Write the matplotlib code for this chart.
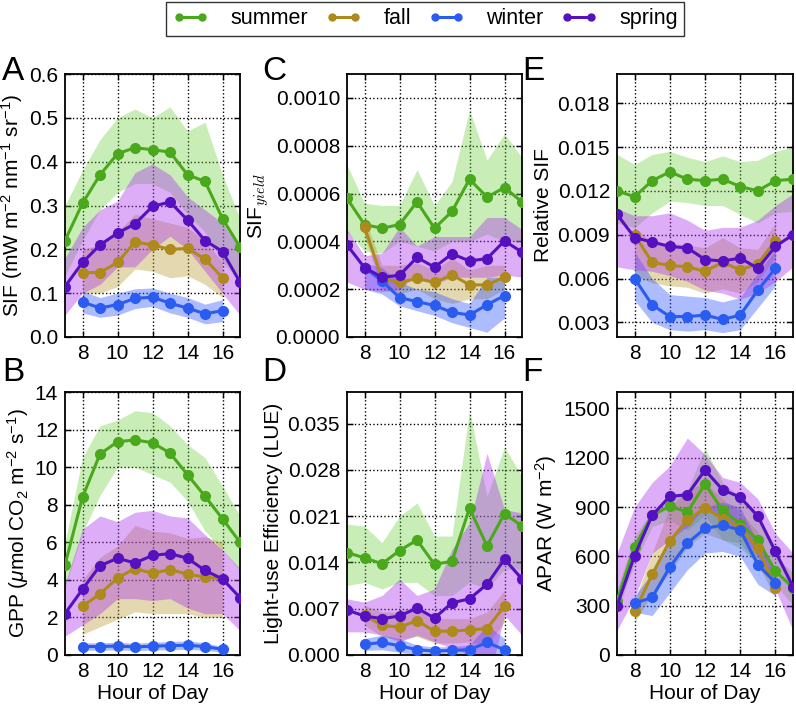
"""
python plot.py -> out.png
Diurnal cycles of SIF, GPP, SIF yield, LUE, relative SIF and APAR by season.
"""
import numpy as np
import matplotlib
matplotlib.use("Agg")
import matplotlib.pyplot as plt
from matplotlib.ticker import FormatStrFormatter

plt.rcParams["font.family"] = ["Liberation Sans", "DejaVu Sans"]
plt.rcParams["mathtext.fontset"] = "custom"
plt.rcParams["mathtext.rm"] = "Liberation Sans"
plt.rcParams["mathtext.it"] = "Liberation Sans:italic"
plt.rcParams["mathtext.bf"] = "Liberation Sans:bold"

# ---------------------------------------------------------------
# Data
# ---------------------------------------------------------------
hours_full = [7, 8, 9, 10, 11, 12, 13, 14, 15, 16, 17]   # summer, spring
hours_part = [8, 9, 10, 11, 12, 13, 14, 15, 16]          # fall, winter
seasons = ["summer", "fall", "winter", "spring"]

# A: SIF
sif_summer = [0.22, 0.305, 0.37, 0.418, 0.432, 0.427, 0.422, 0.37, 0.355, 0.27, 0.205]
sif_summer_hi = [0.30, 0.38, 0.45, 0.50, 0.52, 0.50, 0.525, 0.47, 0.49, 0.37, 0.27]
sif_summer_lo = [0.14, 0.22, 0.29, 0.33, 0.35, 0.35, 0.33, 0.28, 0.24, 0.17, 0.13]
sif_fall = [0.147, 0.147, 0.17, 0.217, 0.21, 0.20, 0.202, 0.178, 0.135]
sif_fall_hi = [0.20, 0.21, 0.24, 0.28, 0.27, 0.26, 0.25, 0.22, 0.17]
sif_fall_lo = [0.10, 0.10, 0.115, 0.155, 0.15, 0.135, 0.14, 0.12, 0.09]
sif_winter = [0.08, 0.066, 0.074, 0.088, 0.091, 0.077, 0.066, 0.053, 0.06]
sif_winter_hi = [0.105, 0.09, 0.10, 0.11, 0.112, 0.10, 0.09, 0.075, 0.085]
sif_winter_lo = [0.055, 0.045, 0.05, 0.065, 0.07, 0.055, 0.045, 0.03, 0.035]
sif_spring = [0.115, 0.17, 0.21, 0.237, 0.258, 0.298, 0.308, 0.267, 0.22, 0.195, 0.125]
sif_spring_hi = [0.18, 0.25, 0.29, 0.31, 0.375, 0.395, 0.37, 0.32, 0.29, 0.26, 0.20]
sif_spring_lo = [0.05, 0.10, 0.12, 0.16, 0.16, 0.20, 0.23, 0.20, 0.15, 0.10, 0.05]

# B: GPP
gpp_summer = [4.8, 8.4, 10.7, 11.35, 11.45, 11.3, 10.75, 9.6, 8.45, 7.25, 6.0]
gpp_summer_hi = [6.0, 10.5, 12.2, 12.5, 13.0, 12.9, 12.2, 11.2, 10.5, 9.0, 7.4]
gpp_summer_lo = [3.6, 6.5, 8.5, 10.0, 10.0, 9.6, 9.2, 8.2, 6.6, 5.6, 4.5]
gpp_fall = [2.6, 3.25, 4.1, 4.6, 4.35, 4.55, 4.3, 4.15, 4.05]
gpp_fall_hi = [4.0, 5.2, 5.8, 6.9, 6.6, 6.5, 6.2, 6.3, 6.0]
gpp_fall_lo = [1.1, 1.5, 1.9, 2.3, 2.2, 2.2, 2.2, 2.0, 2.0]
gpp_winter = [0.45, 0.45, 0.48, 0.43, 0.47, 0.50, 0.52, 0.45, 0.30]
gpp_winter_hi = [0.65, 0.65, 0.68, 0.63, 0.68, 0.72, 0.75, 0.65, 0.45]
gpp_winter_lo = [0.25, 0.25, 0.28, 0.23, 0.26, 0.28, 0.30, 0.25, 0.15]
gpp_spring = [2.2, 3.5, 4.75, 5.15, 4.9, 5.3, 5.4, 5.15, 4.5, 4.05, 3.05]
gpp_spring_hi = [3.8, 6.7, 7.4, 7.1, 7.6, 7.7, 7.4, 7.3, 6.4, 5.6, 4.6]
gpp_spring_lo = [1.0, 1.6, 2.2, 3.0, 3.0, 2.9, 3.0, 2.5, 2.2, 2.2, 1.3]

# C: SIF yield
yld_summer = [0.00058, 0.00047, 0.000455, 0.00047, 0.000565, 0.000455, 0.000525, 0.00066, 0.000585, 0.000625, 0.000565]
yld_summer_hi = [0.00072, 0.00056, 0.00055, 0.00055, 0.00070, 0.00055, 0.00065, 0.00095, 0.00074, 0.00085, 0.00075]
yld_summer_lo = [0.00044, 0.00036, 0.00035, 0.00040, 0.00038, 0.00036, 0.00040, 0.00040, 0.00043, 0.00040, 0.00040]
yld_fall = [0.00046, 0.000245, 0.000228, 0.000245, 0.000228, 0.00026, 0.000218, 0.000218, 0.00025]
yld_fall_hi = [0.00050, 0.00030, 0.00030, 0.00031, 0.00028, 0.00033, 0.00028, 0.00030, 0.00030]
yld_fall_lo = [0.00042, 0.00020, 0.00018, 0.00020, 0.00016, 0.00014, 0.00016, 0.00016, 0.00020]
yld_winter = [0.00029, 0.000235, 0.000165, 0.000148, 0.000132, 0.000103, 0.000092, 0.000135, 0.000173]
yld_winter_hi = [0.00031, 0.00029, 0.00023, 0.00020, 0.00019, 0.00016, 0.00014, 0.00025, 0.00025]
yld_winter_lo = [0.00020, 0.00018, 0.00013, 0.00011, 0.00009, 0.00006, 0.00004, 0.00002, 0.00008]
yld_spring = [0.000385, 0.00029, 0.00025, 0.000258, 0.000333, 0.000292, 0.000348, 0.000318, 0.000328, 0.000402, 0.000355]
yld_spring_hi = [0.00045, 0.00034, 0.00035, 0.00046, 0.00038, 0.00042, 0.00042, 0.00042, 0.00050, 0.00050, 0.00045]
yld_spring_lo = [0.00023, 0.00020, 0.00019, 0.00020, 0.00026, 0.00022, 0.00025, 0.00025, 0.00025, 0.00026, 0.00025]

# D: light-use efficiency
lue_summer = [0.0155, 0.0147, 0.0138, 0.0158, 0.0174, 0.0137, 0.0142, 0.0222, 0.0165, 0.0214, 0.0195]
lue_summer_hi = [0.0198, 0.0195, 0.017, 0.021, 0.023, 0.018, 0.018, 0.037, 0.024, 0.0315, 0.027]
lue_summer_lo = [0.0105, 0.011, 0.010, 0.011, 0.011, 0.009, 0.009, 0.011, 0.010, 0.013, 0.013]
lue_fall = [0.006, 0.0045, 0.0042, 0.0052, 0.0036, 0.0036, 0.0038, 0.0040, 0.0074]
lue_fall_hi = [0.0075, 0.0065, 0.0065, 0.0075, 0.0055, 0.0055, 0.0055, 0.0065, 0.0098]
lue_fall_lo = [0.0045, 0.0028, 0.0023, 0.0028, 0.0018, 0.0018, 0.002, 0.0015, 0.005]
lue_winter = [0.0016, 0.0019, 0.0014, 0.0008, 0.0006, 0.0007, 0.0008, 0.0019, 0.0008]
lue_winter_hi = [0.0025, 0.003, 0.0025, 0.0015, 0.0012, 0.0013, 0.0015, 0.0045, 0.0025]
lue_winter_lo = [0.0007, 0.0008, 0.0004, 0.0001, 0.0, 0.0001, 0.0, -0.0005, -0.0008]
lue_spring = [0.0068, 0.0059, 0.0055, 0.0059, 0.0071, 0.0056, 0.0079, 0.0085, 0.0107, 0.0145, 0.0115]
lue_spring_hi = [0.0085, 0.0080, 0.009, 0.0115, 0.009, 0.010, 0.016, 0.020, 0.0305, 0.022, 0.0215]
lue_spring_lo = [0.0035, 0.0035, 0.003, 0.002, 0.003, 0.002, 0.001, 0.0, -0.005, 0.006, 0.003]

# E: relative SIF
rel_summer = [0.0120, 0.0116, 0.0127, 0.0133, 0.0128, 0.0127, 0.0128, 0.0123, 0.0120, 0.0127, 0.0128]
rel_summer_hi = [0.0145, 0.0138, 0.0145, 0.0147, 0.0143, 0.0140, 0.0144, 0.0140, 0.0141, 0.0147, 0.0150]
rel_summer_lo = [0.0098, 0.0095, 0.0105, 0.0113, 0.0112, 0.0110, 0.0110, 0.0104, 0.0098, 0.0105, 0.0106]
rel_fall = [0.0090, 0.0071, 0.0069, 0.0068, 0.0065, 0.0071, 0.0066, 0.0070, 0.0086]
rel_fall_hi = [0.0095, 0.0085, 0.0084, 0.0083, 0.0081, 0.0088, 0.0081, 0.0080, 0.0098]
rel_fall_lo = [0.0062, 0.0057, 0.0055, 0.0054, 0.0050, 0.0053, 0.0050, 0.0058, 0.0075]
rel_winter = [0.0060, 0.0042, 0.0034, 0.0034, 0.0035, 0.0032, 0.0035, 0.0052, 0.0067]
rel_winter_hi = [0.0078, 0.0060, 0.0049, 0.0048, 0.0047, 0.0044, 0.0047, 0.0064, 0.0080]
rel_winter_lo = [0.0045, 0.0030, 0.0025, 0.0024, 0.0025, 0.0023, 0.0025, 0.0040, 0.0055]
rel_spring = [0.0104, 0.0088, 0.0085, 0.0082, 0.0081, 0.0073, 0.0072, 0.0074, 0.0067, 0.0082, 0.0090]
rel_spring_hi = [0.0108, 0.0103, 0.0103, 0.0105, 0.0100, 0.0093, 0.0095, 0.0095, 0.0100, 0.0110, 0.0118]
rel_spring_lo = [0.0068, 0.0066, 0.0065, 0.0062, 0.0058, 0.0052, 0.0050, 0.0046, 0.0050, 0.0058, 0.0068]

# F: APAR
apar_summer = [330, 660, 850, 905, 870, 1040, 880, 800, 700, 510, 410]
apar_summer_hi = [400, 720, 880, 960, 1000, 1260, 1050, 960, 850, 600, 500]
apar_summer_lo = [260, 560, 780, 820, 760, 850, 700, 650, 560, 430, 300]
apar_fall = [265, 490, 695, 820, 895, 830, 775, 650, 410]
apar_fall_hi = [330, 620, 900, 1000, 1050, 950, 870, 750, 480]
apar_fall_lo = [200, 370, 500, 660, 740, 700, 680, 550, 350]
apar_winter = [315, 350, 535, 680, 770, 790, 760, 550, 440]
apar_winter_hi = [360, 500, 700, 830, 900, 930, 900, 680, 520]
apar_winter_lo = [260, 240, 380, 520, 620, 630, 600, 430, 360]
apar_spring = [300, 605, 850, 965, 975, 1125, 1005, 960, 845, 630, 415]
apar_spring_hi = [620, 900, 1050, 1150, 1320, 1220, 1080, 1050, 950, 740, 620]
apar_spring_lo = [150, 350, 620, 700, 780, 900, 820, 750, 600, 400, 150]

# ---------------------------------------------------------------
# Styles
# ---------------------------------------------------------------
LINE = {"summer": "#4aa81c", "fall": "#ae8a1c", "winter": "#2b5cf0", "spring": "#5510c0"}
FILL = {"summer": "#66cc33", "fall": "#b89a30", "winter": "#3355ff", "spring": "#aa33ee"}
ALPHA = {"summer": 0.35, "fall": 0.38, "winter": 0.4, "spring": 0.4}
HOURS = {"summer": hours_full, "fall": hours_part, "winter": hours_part, "spring": hours_full}
FS = 15

W, H = 796, 708
fig = plt.figure(figsize=(W / 100, H / 100), dpi=100)

def px_axes(x0, y0, x1, y1):
    # axes from pixel box (left, top, right, bottom)
    return fig.add_axes([x0 / W, 1 - y1 / H, (x1 - x0) / W, (y1 - y0) / H])

def panel(ax, data, ylim, yticks, fmt, ylabel, xlabel=None, math_font=None):
    for s in seasons:
        mean, hi, lo = data[s]
        ax.fill_between(HOURS[s], lo, hi, color=FILL[s], alpha=ALPHA[s],
                        linewidth=0, zorder=1)
    for s in seasons:
        mean, hi, lo = data[s]
        ax.plot(HOURS[s], mean, "-o", color=LINE[s], lw=2.2, ms=7,
                mec=LINE[s], zorder=3)
    ax.set_xlim(7, 17)
    ax.set_ylim(*ylim)
    ax.set_xticks([8, 10, 12, 14, 16])
    ax.set_yticks(yticks)
    ax.yaxis.set_major_formatter(FormatStrFormatter(fmt))
    ax.grid(True, linestyle=":", color="black", linewidth=1.0, zorder=0)
    ax.set_axisbelow(True)
    ax.tick_params(direction="in", top=True, right=True, length=4,
                   width=1, labelsize=FS, pad=5)
    for sp in ax.spines.values():
        sp.set_linewidth(1.3)
    kw = {"fontsize": FS}
    if math_font:
        kw["math_fontfamily"] = math_font
    ax.set_ylabel(ylabel, labelpad=3, **kw)
    if xlabel:
        ax.set_xlabel(xlabel, fontsize=FS, labelpad=2)

axA = px_axes(65, 74, 240, 337)
axC = px_axes(347, 74, 522, 337)
axE = px_axes(617, 74, 793, 337)
axB = px_axes(65, 392, 240, 655)
axD = px_axes(347, 392, 522, 655)
axF = px_axes(617, 392, 793, 655)

panel(axA, {"summer": (sif_summer, sif_summer_hi, sif_summer_lo),
            "fall": (sif_fall, sif_fall_hi, sif_fall_lo),
            "winter": (sif_winter, sif_winter_hi, sif_winter_lo),
            "spring": (sif_spring, sif_spring_hi, sif_spring_lo)},
      (0, 0.6), np.arange(0, 0.61, 0.1), "%.1f",
      r"SIF (mW m$^{-2}$ nm$^{-1}$ sr$^{-1}$)")

panel(axB, {"summer": (gpp_summer, gpp_summer_hi, gpp_summer_lo),
            "fall": (gpp_fall, gpp_fall_hi, gpp_fall_lo),
            "winter": (gpp_winter, gpp_winter_hi, gpp_winter_lo),
            "spring": (gpp_spring, gpp_spring_hi, gpp_spring_lo)},
      (0, 14), np.arange(0, 15, 2), "%d",
      r"GPP ($\mu$mol CO$_2$ m$^{-2}$ s$^{-1}$)", "Hour of Day")

panel(axC, {"summer": (yld_summer, yld_summer_hi, yld_summer_lo),
            "fall": (yld_fall, yld_fall_hi, yld_fall_lo),
            "winter": (yld_winter, yld_winter_hi, yld_winter_lo),
            "spring": (yld_spring, yld_spring_hi, yld_spring_lo)},
      (0, 0.0011), np.arange(0, 0.00101, 0.0002), "%.4f",
      r"SIF$_{yield}$", math_font="cm")

panel(axD, {"summer": (lue_summer, lue_summer_hi, lue_summer_lo),
            "fall": (lue_fall, lue_fall_hi, lue_fall_lo),
            "winter": (lue_winter, lue_winter_hi, lue_winter_lo),
            "spring": (lue_spring, lue_spring_hi, lue_spring_lo)},
      (0, 0.0398), np.arange(0, 0.0351, 0.007), "%.3f",
      "Light-use Efficiency (LUE)", "Hour of Day")

panel(axE, {"summer": (rel_summer, rel_summer_hi, rel_summer_lo),
            "fall": (rel_fall, rel_fall_hi, rel_fall_lo),
            "winter": (rel_winter, rel_winter_hi, rel_winter_lo),
            "spring": (rel_spring, rel_spring_hi, rel_spring_lo)},
      (0.002, 0.020), np.arange(0.003, 0.0181, 0.003), "%.3f",
      "Relative SIF")

panel(axF, {"summer": (apar_summer, apar_summer_hi, apar_summer_lo),
            "fall": (apar_fall, apar_fall_hi, apar_fall_lo),
            "winter": (apar_winter, apar_winter_hi, apar_winter_lo),
            "spring": (apar_spring, apar_spring_hi, apar_spring_lo)},
      (0, 1600), np.arange(0, 1501, 300), "%d",
      r"APAR (W m$^{-2}$)", "Hour of Day")

# panel letters
for lbl, x, y in [("A", 2, 56), ("C", 262, 56), ("E", 522, 56),
                  ("B", 2, 357), ("D", 262, 357), ("F", 522, 357)]:
    fig.text(x / W, 1 - y / H, lbl, fontsize=24, ha="left", va="top")

# legend
handles = [plt.Line2D([], [], color=LINE[s], lw=2.2, marker="o", ms=5,
                      mec=LINE[s]) for s in seasons]
fig.legend(handles, seasons, loc="upper center", ncol=4,
           bbox_to_anchor=(425 / W, 1 - 2 / H), fontsize=15.5, frameon=True,
           fancybox=False, edgecolor="black", handlelength=1.7,
           columnspacing=0.8, handletextpad=1.0, borderpad=0.3,
           borderaxespad=0, numpoints=2)

fig.savefig("out.png", dpi=100)
